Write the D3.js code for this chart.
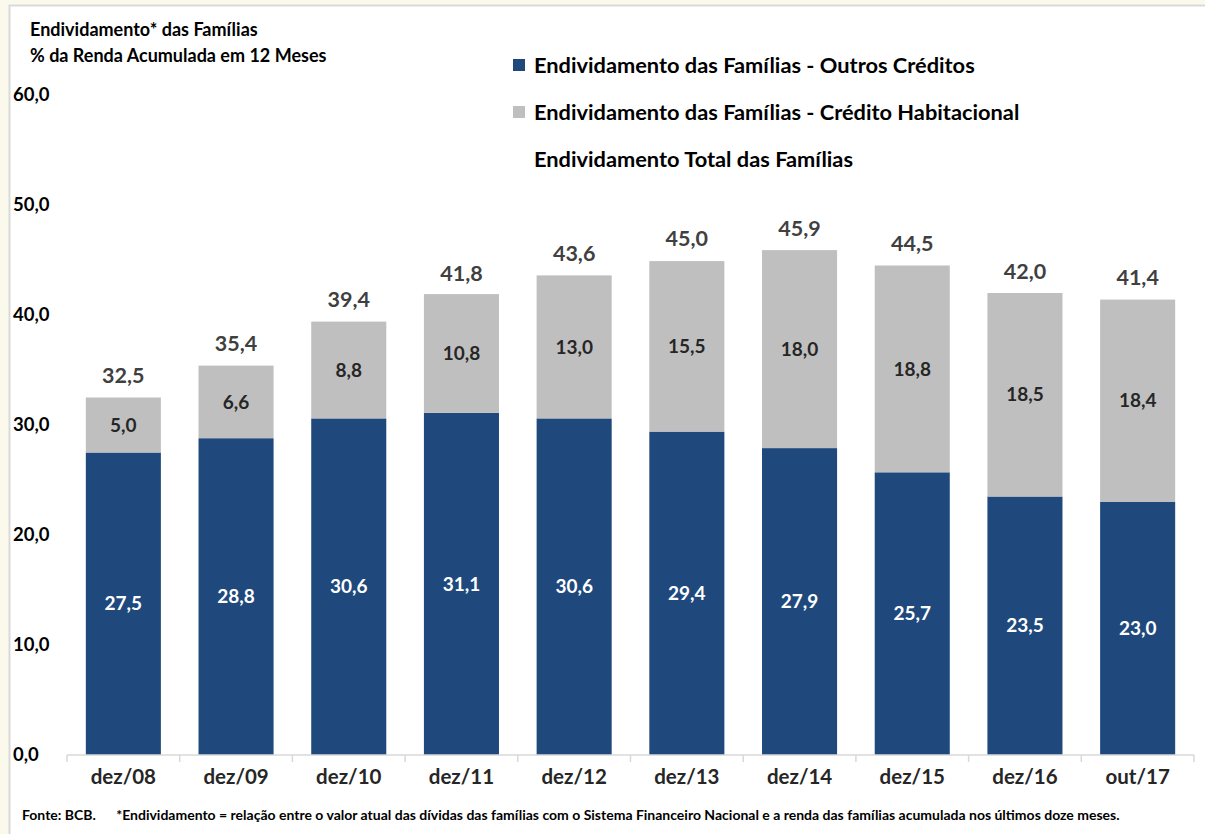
<!DOCTYPE html>
<html>
<head>
<meta charset="utf-8">
<script src="https://cdn.jsdelivr.net/npm/d3@7"></script>
<style>
  body { margin: 0; background: #fbf8ec; }
  svg { display: block; font-family: Lato, "Open Sans", sans-serif; font-weight: bold; }
</style>
</head>
<body>
<svg id="chart" width="1205" height="834"></svg>
<script>
// data
const periods = ["dez/08","dez/09","dez/10","dez/11","dez/12","dez/13","dez/14","dez/15","dez/16","out/17"];
const outrosCreditos = [27.5, 28.8, 30.6, 31.1, 30.6, 29.4, 27.9, 25.7, 23.5, 23.0];
const habitacional = [5.0, 6.6, 8.8, 10.8, 13.0, 15.5, 18.0, 18.8, 18.5, 18.4];
const totalFamilias = [32.5, 35.4, 39.4, 41.8, 43.6, 45.0, 45.9, 44.5, 42.0, 41.4];
const yTicks = [0, 10, 20, 30, 40, 50, 60];
const seriesNames = [
  "Endividamento das Famílias - Outros Créditos",
  "Endividamento das Famílias - Crédito Habitacional",
  "Endividamento Total das Famílias"
];
const colors = ["#1f497d", "#bfbfbf", "none"];

const fmt = function(v) { return d3.format(".1f")(v).replace(".", ","); };

const svg = d3.select("#chart");

// white panel with light frame
svg.append("rect").attr("x", 9.5).attr("y", 5.5).attr("width", 1200).attr("height", 840)
  .attr("fill", "#fff").attr("stroke", "#d9d9d9").attr("stroke-width", 2);

const x = d3.scaleBand().domain(periods).range([67, 1194]).paddingInner(0.334).paddingOuter(0.167);
const y = d3.scaleLinear().domain([0, 60]).range([755, 95]);

// title
svg.append("text").attr("x", 30).attr("y", 36).attr("font-size", 18).attr("fill", "#000")
  .text("Endividamento* das Famílias");
svg.append("text").attr("x", 30).attr("y", 62).attr("font-size", 18).attr("fill", "#000")
  .text("% da Renda Acumulada em 12 Meses");

// y tick labels (no axis line)
svg.append("g").selectAll("text").data(yTicks).enter().append("text")
  .attr("x", 13).attr("y", function(d) { return y(d); }).attr("dy", "0.35em")
  .attr("font-size", 18.5).attr("fill", "#000")
  .text(fmt);

// stacked bars
const rows = periods.map(function(p, i) { return { p: p, outros: outrosCreditos[i], hab: habitacional[i] }; });
const stack = d3.stack().keys(["outros", "hab"])(rows);

svg.append("g").selectAll("g").data(stack).enter().append("g")
  .attr("fill", function(d, i) { return colors[i]; })
  .selectAll("rect").data(function(d) { return d; }).enter().append("rect")
  .attr("x", function(d) { return x(d.data.p); })
  .attr("width", x.bandwidth())
  .attr("y", function(d) { return y(d[1]); })
  .attr("height", function(d) { return y(d[0]) - y(d[1]); });

// segment labels
svg.append("g").selectAll("g").data(stack).enter().append("g")
  .attr("fill", function(d, i) { return i === 0 ? "#fff" : "#262626"; })
  .selectAll("text").data(function(d) { return d; }).enter().append("text")
  .attr("x", function(d) { return x(d.data.p) + x.bandwidth() / 2; })
  .attr("y", function(d) { return (y(d[0]) + y(d[1])) / 2; })
  .attr("dy", "0.35em").attr("text-anchor", "middle").attr("font-size", 19)
  .text(function(d) { return fmt(d[1] - d[0]); });

// total labels
svg.append("g").selectAll("text").data(totalFamilias).enter().append("text")
  .attr("x", function(d, i) { return x(periods[i]) + x.bandwidth() / 2; })
  .attr("y", function(d) { return y(d) - 22; })
  .attr("dy", "0.35em").attr("text-anchor", "middle").attr("font-size", 21.5).attr("fill", "#404040")
  .text(fmt);

// x axis
const xAxis = svg.append("g").attr("transform", "translate(0,755)");
xAxis.append("line").attr("x1", 67).attr("x2", 1194).attr("stroke", "#d9d9d9").attr("stroke-width", 1.5);
const edges = periods.map(function(p) { return x(p) - x.step() * x.paddingInner() / 2; }).concat([1194]);
xAxis.selectAll("line.tk").data(edges).enter().append("line").attr("class", "tk")
  .attr("x1", function(d) { return d; }).attr("x2", function(d) { return d; })
  .attr("y1", 0).attr("y2", 7).attr("stroke", "#d9d9d9").attr("stroke-width", 1.5);
xAxis.selectAll("text").data(periods).enter().append("text")
  .attr("x", function(d) { return x(d) + x.bandwidth() / 2; })
  .attr("y", 22).attr("dy", "0.35em").attr("text-anchor", "middle")
  .attr("font-size", 20.5).attr("fill", "#262626")
  .text(function(d) { return d; });

// legend
const legend = svg.append("g").selectAll("g").data(seriesNames).enter().append("g")
  .attr("transform", function(d, i) { return "translate(513," + (65 + i * 47) + ")"; });
legend.append("rect").attr("x", 0).attr("y", -6).attr("width", 12).attr("height", 12)
  .attr("fill", function(d, i) { return colors[i]; });
legend.append("text").attr("x", 21).attr("dy", "0.35em").attr("font-size", 21.8).attr("fill", "#000")
  .text(function(d) { return d; });

// footer
svg.append("text").attr("x", 22).attr("y", 820).attr("font-size", 14).attr("fill", "#000")
  .attr("xml:space", "preserve")
  .text("Fonte: BCB.      *Endividamento = relação entre o valor atual das dívidas das famílias com o Sistema Financeiro Nacional e a renda das famílias acumulada nos últimos doze meses.");
</script>
</body>
</html>
